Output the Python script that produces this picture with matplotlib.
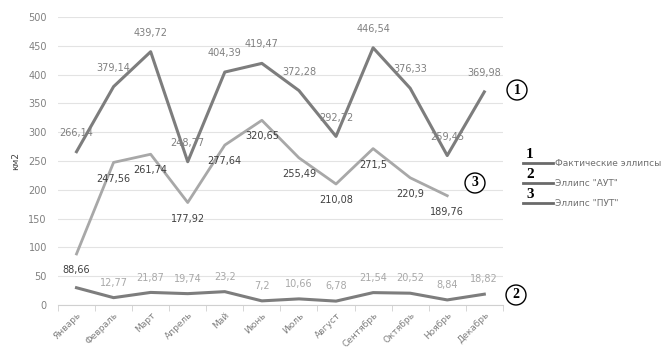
import matplotlib.pyplot as plt

months = ["Январь", "Февраль", "Март", "Апрель", "Май", "Июнь", "Июль",
          "Август", "Сентябрь", "Октябрь", "Ноябрь", "Декабрь"]
fact = [266.14, 379.14, 439.72, 248.77, 404.39, 419.47, 372.28,
        292.72, 446.54, 376.33, 259.45, 369.98]
aut = [30.0, 12.77, 21.87, 19.74, 23.2, 7.2, 10.66, 6.78, 21.54, 20.52, 8.84, 18.82]
put = [88.66, 247.56, 261.74, 177.92, 277.64, 320.65, 255.49,
       210.08, 271.5, 220.9, 189.76]
aut_labels = [None] + aut[1:]  # january label is missing in the source

c_fact = "#7d7d7d"
c_aut = "#7d7d7d"
c_put = "#a8a8a8"

plt.rcParams['font.family'] = ['DejaVu Sans']
fig = plt.figure(figsize=(6.64, 3.51), dpi=100)
ax = fig.add_axes([0.0873, 0.131, 0.670, 0.8206])

x = list(range(len(months)))
ax.plot(x, fact, color=c_fact, lw=2.2)
ax.plot(x, aut, color=c_aut, lw=2.2)
ax.plot(x[:len(put)], put, color=c_put, lw=2.0)

def fmt(v):
    return f"{v:g}".replace(".", ",")

for xi, v in zip(x, fact):
    ax.annotate(fmt(v), (xi, v), xytext=(0, 10), textcoords="offset points",
                ha="center", va="bottom", fontsize=7, color="#808080")
for xi, v in zip(x, aut_labels):
    if v is not None:
        ax.annotate(fmt(v), (xi, v), xytext=(0, 7), textcoords="offset points",
                    ha="center", va="bottom", fontsize=7, color="#a8a8a8")
for xi, v in zip(x, put):
    ax.annotate(fmt(v), (xi, v), xytext=(0, -8), textcoords="offset points",
                ha="center", va="top", fontsize=7, color="#404040")

ax.set_xlim(-0.5, 11.5)
ax.set_ylim(0, 500)
ax.set_yticks(range(0, 501, 50))
ax.grid(axis="y", color="#e3e3e3", lw=0.8)
ax.set_axisbelow(True)
for s in ["top", "right", "left"]:
    ax.spines[s].set_visible(False)
ax.spines["bottom"].set_color("#d0d0d0")
ax.set_xticks(x)
ax.set_xticklabels(months, rotation=45, ha="right", rotation_mode="anchor",
                   fontsize=6.5, color="#808080")
ax.set_xticks([i - 0.5 for i in range(13)], minor=True)
ax.tick_params(axis="x", which="major", length=0, pad=4)
ax.tick_params(axis="x", which="minor", length=4, color="#d0d0d0")
ax.tick_params(axis="y", length=0, labelsize=7, labelcolor="#808080", pad=8)
ax.set_ylabel("км2", fontsize=6.5, color="#404040", labelpad=6)

# circled series numbers
for txt, px, py in [("1", 517, 90), ("3", 475, 183), ("2", 516, 295)]:
    fig.text(px / 664, 1 - py / 351, txt, ha="center", va="center",
             family="Liberation Serif", fontweight="bold", fontsize=10,
             bbox=dict(boxstyle="circle,pad=0.25", fc="white", ec="black", lw=1))

# hand-drawn style legend
legend_items = [("1", "Фактические эллипсы", 163), ("2", "Эллипс \"АУТ\"", 183),
                ("3", "Эллипс \"ПУТ\"", 203)]
for num, label, ly in legend_items:
    yf = 1 - ly / 351
    fig.text(530 / 664, yf + 2 / 351, num, ha="center", va="bottom",
             family="Liberation Serif", fontweight="bold", fontsize=11)
    fig.add_artist(plt.Line2D([523 / 664, 553 / 664], [yf, yf],
                              color="#6a6a6a", lw=2.0))
    fig.text(555 / 664, yf, label, ha="left", va="center",
             fontsize=6.5, color="#707070")

fig.savefig("out.png", dpi=100)
